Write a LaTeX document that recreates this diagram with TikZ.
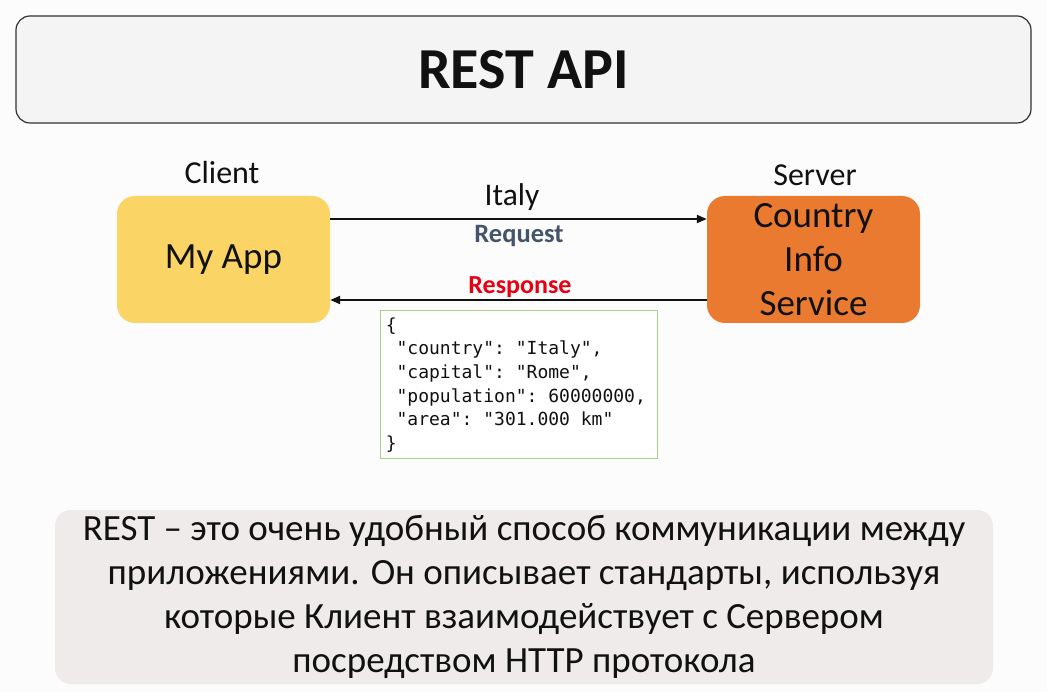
\documentclass[tikz,border=0pt]{standalone}
\usepackage{fontspec}
\setmainfont{Carlito}
\setmonofont{DejaVu Sans Mono}
\usetikzlibrary{arrows.meta}
\definecolor{pagebg}{RGB}{252,252,252}
\definecolor{titlefill}{RGB}{244,244,244}
\definecolor{titleline}{RGB}{50,50,50}
\definecolor{appyellow}{RGB}{250,212,101}
\definecolor{svcorange}{RGB}{234,122,47}
\definecolor{reqslate}{RGB}{68,84,106}
\definecolor{resred}{RGB}{230,0,18}
\definecolor{jsonframe}{RGB}{169,209,142}
\definecolor{notefill}{RGB}{238,235,234}
\definecolor{ink}{RGB}{17,17,17}
\tikzset{
  titlebox/.style={draw=titleline, line width=1.2pt, fill=titlefill, rounded corners=14pt,
    minimum width=1015pt, minimum height=107pt, text=ink},
  appbox/.style={fill=#1, rounded corners=18pt, minimum width=213pt, minimum height=127pt,
    text=ink, align=center, font=\fontsize{37}{44}\selectfont},
  rolelabel/.style={text=ink, font=\fontsize{32}{36}\selectfont},
  flow/.style={draw=ink, line width=2pt, -{Triangle[length=10pt,width=8pt]}},
  flowlabel/.style={font=\fontsize{26.5}{30}\selectfont\bfseries},
  jsonbox/.style={draw=jsonframe, line width=0.8pt, fill=white, minimum width=277pt,
    minimum height=148pt},
  jsontext/.style={anchor=west, align=left, inner xsep=6pt, inner ysep=0pt,
    font=\ttfamily\fontsize{18}{23.6}\selectfont, text=ink},
  notebox/.style={fill=notefill, rounded corners=16pt, minimum width=938pt, minimum height=174pt,
    align=center, text=ink, font=\fontsize{37}{44}\selectfont}
}
\begin{document}
\begin{tikzpicture}[x=1pt,y=-1pt]
  \fill[pagebg] (0,0) rectangle (1047,692);
  \useasboundingbox (0,0) rectangle (1047,692);

  % heading
  \node[titlebox] (title) at (523.5,69.5) {\fontsize{58}{62}\selectfont\bfseries REST API};

  % client and server
  \node[appbox=appyellow] (app) at (223.5,259.5) {My App};
  \node[appbox=svcorange] (svc) at (813.5,259.5) {Country\\Info\\Service};
  \node[rolelabel] (client) at (222,173) {Client};
  \node[rolelabel] (server) at (815,175) {Server};

  % request / response
  \draw[flow] ([yshift=40.5pt]app.east) -- ([yshift=40.5pt]svc.west);
  \draw[flow] ([yshift=-40.5pt]svc.west) -- ([yshift=-40.5pt]app.east);
  \node[rolelabel, font=\fontsize{31.5}{36}\selectfont] (italy) at (512,197) {Italy};
  \node[flowlabel, text=reqslate] (req) at (519,236) {Request};
  \node[flowlabel, text=resred, font=\fontsize{26}{30}\selectfont\bfseries] (res) at (520,287) {Response};

  % response body
  \node[jsonbox] (json) at (518.5,384) {};
  \node[jsontext] (jsonbody) at ([yshift=-1pt]json.west) {\{\\
\ "country": "Italy",\\
\ "capital": "Rome",\\
\ "population": 60000000,\\
\ "area": "301.000\ km"\\
\}};

  % explanation
  \node[notebox] (note) at (524,597) {REST – это очень удобный способ коммуникации между\\
приложениями. Он описывает стандарты, используя\\
которые Клиент взаимодействует с Сервером\\
посредством HTTP протокола};
\end{tikzpicture}
\end{document}
